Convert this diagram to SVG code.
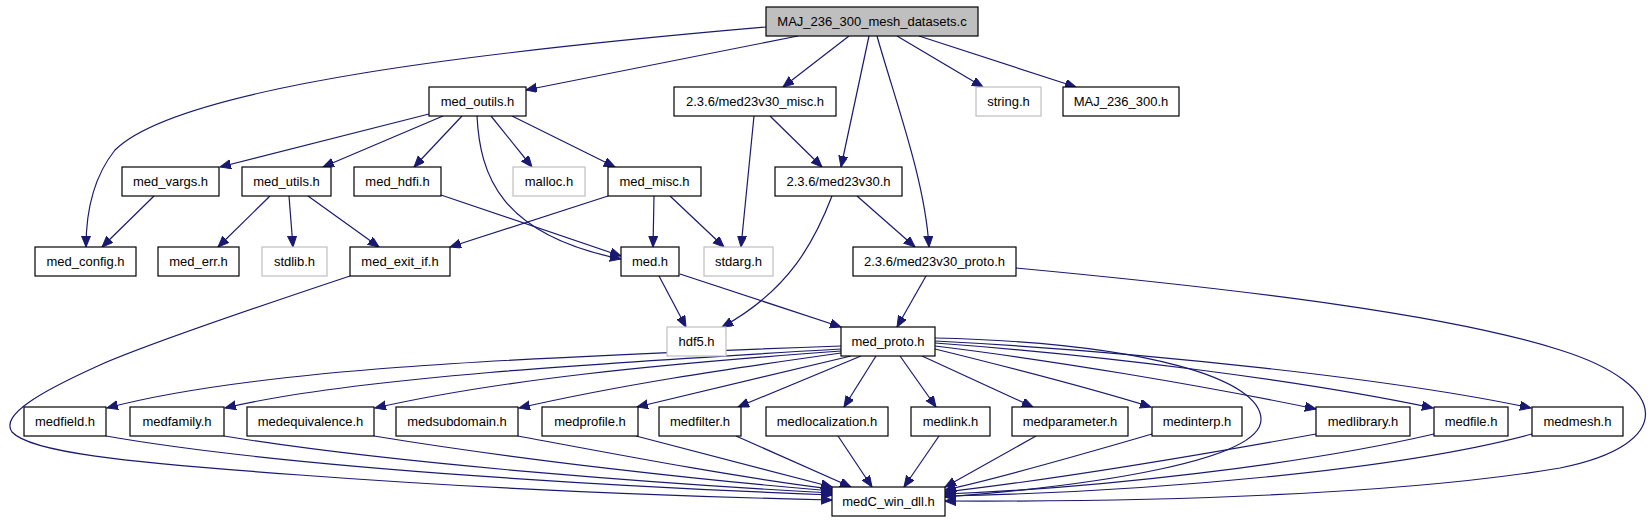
<svg xmlns="http://www.w3.org/2000/svg" width="1652" height="523" viewBox="0 0 1652 523">
<style>
.n rect{fill:#ffffff;stroke:#000000;stroke-width:1.2}
.n.g rect{stroke:#bfbfbf}
.n.m rect{fill:#bfbfbf}
.n text{font-family:"Liberation Sans",Arial,sans-serif;font-size:13px;fill:#000000;text-anchor:middle}
.e path{fill:none;stroke:#191970;stroke-width:1.2;marker-end:url(#ah)}
</style>
<defs>
<marker id="ah" markerUnits="userSpaceOnUse" markerWidth="12" markerHeight="10" refX="11" refY="4.5" orient="auto">
<path d="M0,0 L11,4.5 L0,9 z" fill="#191970" stroke="#191970" stroke-width="1"/>
</marker>
</defs>
<rect width="1652" height="523" fill="#ffffff"/>
<g id="edges" class="e">
<path d="M766,27 C 500,50 180,85 115,150 C 95,175 86,210 86,247"/>
<path d="M798,36 L526,90"/>
<path d="M849,36 L783,87"/>
<path d="M869,36 L841,167"/>
<path d="M877,36 C 895,100 925,180 929,247"/>
<path d="M897,36 L983,87"/>
<path d="M919,36 L1076,87"/>
<path d="M429,114 L220,167"/>
<path d="M443,116 L323,167"/>
<path d="M462,116 L414,167"/>
<path d="M491,116 L532,167"/>
<path d="M512,116 L615,167"/>
<path d="M477,116 C 480,175 500,235 621,259"/>
<path d="M441,195 L621,256"/>
<path d="M154,196 L102,247"/>
<path d="M270,196 L218,247"/>
<path d="M289,196 L293,247"/>
<path d="M308,196 L379,247"/>
<path d="M608,196 L450,247"/>
<path d="M654,196 L653,247"/>
<path d="M670,196 L724,247"/>
<path d="M754,116 L741,247"/>
<path d="M770,116 L822,167"/>
<path d="M832,196 C 815,240 790,290 722,327"/>
<path d="M857,196 L915,247"/>
<path d="M659,276 L686,327"/>
<path d="M680,274 L841,327"/>
<path d="M926,276 L897,327"/>
<path d="M1016,268 C 1250,290 1450,315 1560,350 C 1672,385 1676,445 1560,468 C 1400,495 1150,502 945,501"/>
<path d="M350,276 C 260,306 150,343 100,365 C 40,392 0,415 12,432 C 30,452 120,462 300,475 C 500,490 700,497 832,500"/>
<path d="M841,346 C 500,358 250,370 107,408"/>
<path d="M841,349 C 600,363 350,378 225,408"/>
<path d="M841,351 C 650,365 500,380 375,408"/>
<path d="M841,353 C 720,370 620,385 519,408"/>
<path d="M851,356 L637,407"/>
<path d="M861,356 L738,407"/>
<path d="M876,356 L844,407"/>
<path d="M900,356 L936,407"/>
<path d="M922,356 L1033,407"/>
<path d="M935,349 C 1000,365 1080,385 1151,407"/>
<path d="M935,346 C 1050,360 1200,385 1316,409"/>
<path d="M935,343 C 1100,355 1300,380 1433,408"/>
<path d="M935,341 C 1150,352 1400,380 1531,408"/>
<path d="M935,338 C 1150,343 1262,380 1261,420 C 1260,460 1100,485 945,497"/>
<path d="M106,436 C 300,470 650,488 832,495"/>
<path d="M224,436 C 400,465 680,485 832,493"/>
<path d="M374,436 C 520,460 700,480 832,491"/>
<path d="M518,436 C 620,455 740,478 832,489"/>
<path d="M636,436 L832,487"/>
<path d="M736,436 L851,487"/>
<path d="M838,436 L872,487"/>
<path d="M939,436 L904,487"/>
<path d="M1036,436 L945,487"/>
<path d="M1152,434 C 1080,455 1000,478 945,490"/>
<path d="M1316,434 C 1200,455 1050,480 945,492"/>
<path d="M1434,434 C 1300,465 1100,488 945,494"/>
<path d="M1532,434 C 1400,470 1150,492 945,496"/>
</g>
<g id="n_main" class="n m"><rect x="766" y="7" width="212" height="29"/><text x="872" y="26">MAJ_236_300_mesh_datasets.c</text></g>
<g id="n_med_outils" class="n"><rect x="429" y="87" width="97" height="29"/><text x="477.5" y="106">med_outils.h</text></g>
<g id="n_misc" class="n"><rect x="674" y="87" width="162" height="29"/><text x="755" y="106">2.3.6/med23v30_misc.h</text></g>
<g id="n_string" class="n g"><rect x="976" y="87" width="65" height="29"/><text x="1008.5" y="106">string.h</text></g>
<g id="n_maj_h" class="n"><rect x="1063" y="87" width="116" height="29"/><text x="1121" y="106">MAJ_236_300.h</text></g>
<g id="n_med_vargs" class="n"><rect x="122" y="167" width="97" height="29"/><text x="170.5" y="186">med_vargs.h</text></g>
<g id="n_med_utils" class="n"><rect x="242" y="167" width="89" height="29"/><text x="286.5" y="186">med_utils.h</text></g>
<g id="n_med_hdfi" class="n"><rect x="354" y="167" width="87" height="29"/><text x="397.5" y="186">med_hdfi.h</text></g>
<g id="n_malloc" class="n g"><rect x="513" y="167" width="72" height="29"/><text x="549" y="186">malloc.h</text></g>
<g id="n_med_misc" class="n"><rect x="608" y="167" width="93" height="29"/><text x="654.5" y="186">med_misc.h</text></g>
<g id="n_med23v30" class="n"><rect x="775" y="167" width="127" height="29"/><text x="838.5" y="186">2.3.6/med23v30.h</text></g>
<g id="n_med_config" class="n"><rect x="35" y="247" width="101" height="29"/><text x="85.5" y="266">med_config.h</text></g>
<g id="n_med_err" class="n"><rect x="158" y="247" width="81" height="29"/><text x="198.5" y="266">med_err.h</text></g>
<g id="n_stdlib" class="n g"><rect x="262" y="247" width="65" height="29"/><text x="294.5" y="266">stdlib.h</text></g>
<g id="n_med_exit_if" class="n"><rect x="350" y="247" width="100" height="29"/><text x="400" y="266">med_exit_if.h</text></g>
<g id="n_med_h" class="n"><rect x="621" y="247" width="58" height="29"/><text x="650" y="266">med.h</text></g>
<g id="n_stdarg" class="n g"><rect x="704" y="247" width="69" height="29"/><text x="738.5" y="266">stdarg.h</text></g>
<g id="n_proto23" class="n"><rect x="853" y="247" width="163" height="29"/><text x="934.5" y="266">2.3.6/med23v30_proto.h</text></g>
<g id="n_hdf5" class="n g"><rect x="667" y="327" width="59" height="29"/><text x="696.5" y="346">hdf5.h</text></g>
<g id="n_med_proto" class="n"><rect x="841" y="327" width="94" height="29"/><text x="888" y="346">med_proto.h</text></g>
<g id="n_medfield" class="n"><rect x="24" y="407" width="82" height="29"/><text x="65" y="426">medfield.h</text></g>
<g id="n_medfamily" class="n"><rect x="130" y="407" width="94" height="29"/><text x="177" y="426">medfamily.h</text></g>
<g id="n_medequivalence" class="n"><rect x="247" y="407" width="127" height="29"/><text x="310.5" y="426">medequivalence.h</text></g>
<g id="n_medsubdomain" class="n"><rect x="396" y="407" width="122" height="29"/><text x="457" y="426">medsubdomain.h</text></g>
<g id="n_medprofile" class="n"><rect x="542" y="407" width="96" height="29"/><text x="590" y="426">medprofile.h</text></g>
<g id="n_medfilter" class="n"><rect x="659" y="407" width="82" height="29"/><text x="700" y="426">medfilter.h</text></g>
<g id="n_medlocalization" class="n"><rect x="766" y="407" width="122" height="29"/><text x="827" y="426">medlocalization.h</text></g>
<g id="n_medlink" class="n"><rect x="911" y="407" width="79" height="29"/><text x="950.5" y="426">medlink.h</text></g>
<g id="n_medparameter" class="n"><rect x="1012" y="407" width="116" height="29"/><text x="1070" y="426">medparameter.h</text></g>
<g id="n_medinterp" class="n"><rect x="1152" y="407" width="90" height="29"/><text x="1197" y="426">medinterp.h</text></g>
<g id="n_medlibrary" class="n"><rect x="1316" y="407" width="94" height="29"/><text x="1363" y="426">medlibrary.h</text></g>
<g id="n_medfile" class="n"><rect x="1434" y="407" width="74" height="29"/><text x="1471" y="426">medfile.h</text></g>
<g id="n_medmesh" class="n"><rect x="1532" y="407" width="91" height="29"/><text x="1577.5" y="426">medmesh.h</text></g>
<g id="n_medC_win_dll" class="n"><rect x="832" y="487" width="113" height="29"/><text x="888.5" y="506">medC_win_dll.h</text></g>
</svg>
